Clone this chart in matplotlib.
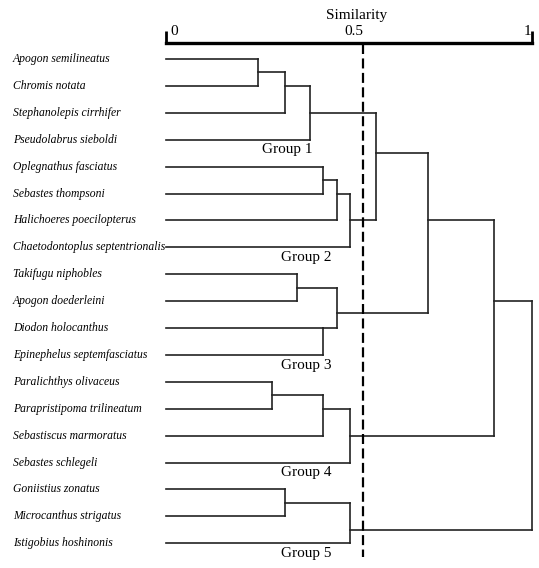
import matplotlib.pyplot as plt

plt.rcParams['font.family'] = ['Liberation Serif', 'DejaVu Serif']

species = ['Apogon semilineatus', 'Chromis notata', 'Stephanolepis cirrhifer',
           'Pseudolabrus sieboldi', 'Oplegnathus fasciatus', 'Sebastes thompsoni',
           'Halichoeres poecilopterus', 'Chaetodontoplus septentrionalis',
           'Takifugu niphobles', 'Apogon doederleini', 'Diodon holocanthus',
           'Epinephelus septemfasciatus', 'Paralichthys olivaceus',
           'Parapristipoma trilineatum', 'Sebastiscus marmoratus',
           'Sebastes schlegeli', 'Goniistius zonatus', 'Microcanthus strigatus',
           'Istigobius hoshinonis']

# internal nodes are numbered after the leaves (19, 20, ...)
node_left = [0, 19, 20, 4, 22, 23, 21, 8, 10, 26, 25, 12, 30, 31, 29, 16, 34, 33]
node_right = [1, 2, 3, 5, 6, 7, 24, 9, 11, 27, 28, 13, 14, 15, 32, 17, 18, 35]
node_sim = [0.252, 0.325, 0.393, 0.43, 0.466, 0.502, 0.573, 0.359, 0.43, 0.466,
            0.717, 0.29, 0.43, 0.503, 0.895, 0.325, 0.503, 1.0]
# row where the branch leaves each node (as drawn)
node_row = [0.5, 1.0, 2.0, 4.5, 5.0, 6.0, 3.5, 8.5, 10.0, 9.45,
            6.0, 12.5, 13.0, 14.0, 9.0, 16.5, 17.5, 13.0]

groups = ['Group 1', 'Group 2', 'Group 3', 'Group 4', 'Group 5']
group_last = [3, 7, 11, 15, 18]
group_x = [0.33, 0.384, 0.384, 0.384, 0.384]

cut = 0.538
tick_vals = [0, 0.5, 1]
tick_text = ['0', '0.5', '1']

n = len(species)
sim = [0.0] * n + node_sim
row = list(range(n)) + node_row

fig = plt.figure(figsize=(5.39, 5.68), dpi=100)
ax = fig.add_axes([166 / 539, 0, 366 / 539, 525 / 568])
ax.set_xlim(0, 1)
ax.set_ylim(18.92, -0.595)

lw = 1.2
for k in range(len(node_left)):
    p = n + k
    l, r = node_left[k], node_right[k]
    ax.plot([sim[p], sim[p]], [row[l], row[r]], color='#222222', lw=lw,
            clip_on=False, solid_capstyle='projecting')
    for c in (l, r):
        ax.plot([sim[c], sim[p]], [row[c], row[c]], color='#222222', lw=lw,
                clip_on=False, solid_capstyle='projecting')

for i, s in enumerate(species):
    ax.text(-0.419, i, s, style='italic', fontsize=8.4, ha='left', va='center')

for g, last, gx in zip(groups, group_last, group_x):
    ax.text(gx, last + 0.38, g, fontsize=11, ha='center', va='center')

ax.plot([cut, cut], [-0.55, 18.5], color='black', lw=1.6, dashes=(4.5, 2),
        clip_on=False)

for s in ['left', 'right', 'bottom']:
    ax.spines[s].set_visible(False)
ax.spines['top'].set_linewidth(2.4)
ax.xaxis.tick_top()
ax.set_xticks([0, 1])
ax.set_xticklabels([])
ax.tick_params(axis='x', length=8.5, width=2, direction='out')
ax.set_yticks([])

offsets = [5.8, 3.6, -3.2]
for v, t, dx in zip(tick_vals, tick_text, offsets):
    ax.annotate(t, (v, 1), xycoords=('data', 'axes fraction'), xytext=(dx, 8),
                textcoords='offset points', ha='center', va='center', fontsize=11)
ax.annotate('Similarity', (0.521, 1), xycoords=('data', 'axes fraction'),
            xytext=(0, 20), textcoords='offset points', ha='center',
            va='center', fontsize=11)

fig.savefig('out.png', dpi=100)
